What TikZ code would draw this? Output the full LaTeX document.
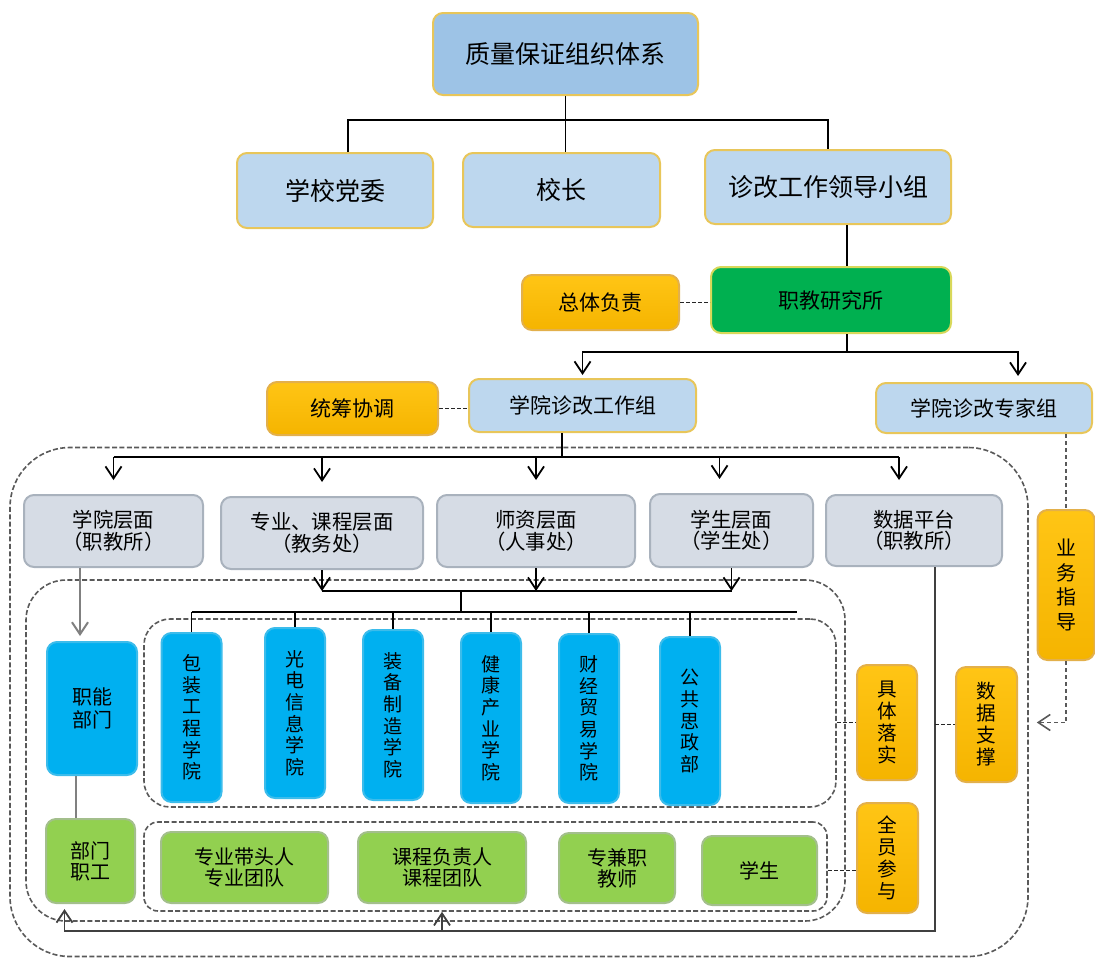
\documentclass[tikz,border=0pt]{standalone}
\usepackage{fontspec}
\setmainfont{Noto Sans CJK SC}
\usetikzlibrary{arrows.meta}

\definecolor{titleblue}{HTML}{9DC3E6}
\definecolor{lightblue}{HTML}{BDD7EE}
\definecolor{goldedge}{HTML}{E8C65A}
\definecolor{levelgrey}{HTML}{D6DCE5}
\definecolor{leveledge}{HTML}{A9B2BD}
\definecolor{deptblue}{HTML}{00B0F0}
\definecolor{deptedge}{HTML}{3CBCEB}
\definecolor{staffgreen}{HTML}{92D050}
\definecolor{staffedge}{HTML}{A3BF8C}
\definecolor{instgreen}{HTML}{00B050}
\definecolor{instedge}{HTML}{D8D85A}
\definecolor{noteyellow}{HTML}{FFC515}
\definecolor{noteorange}{HTML}{F5B400}
\definecolor{noteedge}{HTML}{E3B04B}
\definecolor{dashgrey}{HTML}{595959}

\begin{document}
\begin{tikzpicture}[
    x = 0.5pt, y = -0.5pt,
    line width = 0.9pt,
    >={Straight Barb[length=6pt,width=8pt]},
    wh/.style 2 args = {minimum width = #1*0.5pt, minimum height = #2*0.5pt},
    box/.style = {
      draw,
      rounded corners = 5pt,
      inner sep = 0pt,
      align = center,
      line width = 1pt
    },
    titlebox/.style  = {box, fill=titleblue, draw=goldedge, font=\fontsize{12.5}{15}\selectfont},
    leadbox/.style   = {box, fill=lightblue, draw=goldedge, font=\fontsize{12.5}{15}\selectfont},
    teambox/.style   = {box, fill=lightblue, draw=goldedge, font=\fontsize{10.5}{12}\selectfont},
    instbox/.style   = {box, fill=instgreen, draw=instedge, font=\fontsize{10.5}{12}\selectfont},
    notebox/.style   = {box, top color=noteyellow, bottom color=noteorange, draw=noteedge, font=\fontsize{10.5}{12}\selectfont},
    vnote/.style     = {notebox, font=\fontsize{9.8}{11}\selectfont},
    levelbox/.style  = {box, fill=levelgrey, draw=leveledge, font=\fontsize{10.2}{10.8}\selectfont},
    deptbox/.style   = {box, fill=deptblue, draw=deptedge, font=\fontsize{9.5}{10.8}\selectfont},
    memberbox/.style = {box, fill=staffgreen, draw=staffedge, font=\fontsize{10}{10.5}\selectfont},
    grp/.style       = {draw=dashgrey, dash pattern=on 2.5pt off 1.2pt, line width=0.8pt},
    link/.style      = {draw=black!85, dash pattern=on 2pt off 1pt, line width=0.8pt},
    farlink/.style   = {draw=dashgrey, dash pattern=on 2pt off 1.5pt, line width=0.8pt},
    greyline/.style  = {draw=black!50, line width=1pt},
    dataline/.style  = {draw=black!75, line width=0.9pt}
  ]
\useasboundingbox (0,0) rectangle (1095,958);

% groups
\node[grp, rounded corners=30pt, wh={1018}{509}] (outer)  at (519,702)     {};
\node[grp, rounded corners=20pt, wh={819}{341}]  (mid)    at (435.5,750.5) {};
\node[grp, rounded corners=13pt, wh={692}{188}]  (blueC)  at (490,713)     {};
\node[grp, rounded corners=7pt,  wh={683}{89}]   (greenC) at (485.5,866.5) {};

% top
\node[titlebox, wh={265}{82}] (title) at (565.5,54)  {质量保证组织体系};
\node[leadbox,  wh={196}{75}] (party) at (335,190.5) {学校党委};
\node[leadbox,  wh={197}{74}] (head)  at (561.5,190) {校长};
\node[leadbox,  wh={246}{74}] (lead)  at (828,187)   {诊改工作领导小组};

\node[instbox, wh={240}{66}] (inst)  at (831,300)     {职教研究所};
\node[notebox, wh={157}{55}] (resp)  at (600.5,302.5) {总体负责};
\node[teambox, wh={227}{53}] (wg)    at (582.5,405.5) {学院诊改工作组};
\node[notebox, wh={171}{53}] (coord) at (352.5,408.5) {统筹协调};
\node[teambox, wh={216}{50}] (ex)    at (984,408)     {学院诊改专家组};

% levels
\node[levelbox, wh={179}{72}] (l1) at (113.5,531) {学院层面\\（职教所）};
\node[levelbox, wh={202}{72}] (l2) at (322,533)   {专业、课程层面\\（教务处）};
\node[levelbox, wh={198}{72}] (l3) at (536,531)   {师资层面\\（人事处）};
\node[levelbox, wh={163}{73}] (l4) at (731.5,530.5) {学生层面\\（学生处）};
\node[levelbox, wh={176}{71}] (l5) at (914,530.5) {数据平台\\（职教所）};

% departments
\node[deptbox, font=\fontsize{10}{11.5}\selectfont, wh={90}{133}] (fn) at (92,708.5) {职能\\部门};
\node[deptbox, wh={60}{169}] (c1) at (191.5,717.5) {包\\装\\工\\程\\学\\院};
\node[deptbox, wh={60}{170}] (c2) at (295,713)     {光\\电\\信\\息\\学\\院};
\node[deptbox, wh={60}{170}] (c3) at (393,715)     {装\\备\\制\\造\\学\\院};
\node[deptbox, wh={60}{170}] (c4) at (491,718)     {健\\康\\产\\业\\学\\院};
\node[deptbox, wh={60}{169}] (c5) at (589,718.5)   {财\\经\\贸\\易\\学\\院};
\node[deptbox, wh={60}{168}] (c6) at (690,721)     {公\\共\\思\\政\\部};

% members
\node[memberbox, wh={89}{84}]  (staff) at (90.5,861)   {部门\\职工};
\node[memberbox, wh={167}{71}] (g1)    at (244.5,867.5) {专业带头人\\专业团队};
\node[memberbox, wh={168}{71}] (g2)    at (442,867.5)  {课程负责人\\课程团队};
\node[memberbox, wh={116}{70}] (g3)    at (617,868)    {专兼职\\教师};
\node[memberbox, wh={115}{69}] (g4)    at (759.5,870.5) {学生};

% notes
\node[vnote, font=\fontsize{10}{12.2}\selectfont, wh={57}{150}] (guide) at (1066,585) {业\\务\\指\\导};
\node[vnote, wh={60}{115}] (impl) at (887,722.5)   {具\\体\\落\\实};
\node[vnote, wh={61}{115}] (data) at (986.5,724.5) {数\\据\\支\\撑};
\node[vnote, wh={61}{110}] (join) at (887.5,858)   {全\\员\\参\\与};

% tree
\coordinate (topbar) at (565,120);
\draw (title.south) -- (title.south |- head.north);
\draw ([xshift=6.5pt]party.north) |- (topbar) -| (lead.north);

\coordinate (instTop) at ([xshift=8pt]inst.north);
\draw (lead.south -| instTop) -- (instTop);
\coordinate (split) at (847,352);
\draw[->] ([xshift=8pt]inst.south) |- (split -| wg.north) -- ([yshift=1.5pt]wg.north);
\draw[->] (split) -| ([xshift=17pt,yshift=3pt]ex.north);

\draw[link] (resp.east) -- (resp.east -| inst.west);
\draw[link] (coord.east) -- (coord.east -| wg.west);

% levels
\coordinate (lv) at (562,457);
\draw (wg.south -| lv) -- (lv);
\draw (lv -| l1.north) -- ([xshift=-7.5pt]lv -| l5.north);
\foreach \n/\s in {l1/0pt,l2/0pt,l3/0pt,l4/-6pt,l5/-7.5pt}
  \draw[->] ([xshift=\s]lv -| \n.north) -- ([xshift=\s,yshift=7pt]\n.north);

% colleges
\coordinate (bus1) at (461,591);
\coordinate (bus2) at (797,612);
\draw (l2.south |- bus1) -- (l4.south |- bus1);
\foreach \n in {l2,l3,l4}
  \draw[->] (\n.south) -- (\n.south |- bus1);
\draw (bus1) -- (bus1 |- bus2);
\draw (c1.north |- bus2) -- (bus2);
\foreach \n in {c1,c2,c3,c4,c5,c6}
  \draw (\n.north |- bus2) -- (\n.north);

\draw[->, greyline] ([xshift=-6pt]fn.north |- l1.south) -- ([xshift=-6pt,yshift=2.5pt]fn.north);
\draw[greyline] ([xshift=-8pt]fn.south) -- ([xshift=-8pt]fn.south |- staff.north);

% data
\coordinate (dOut) at ([xshift=10.5pt]l5.south);
\coordinate (sIn)  at ([xshift=-13pt]staff.south);
\coordinate (bot)  at (500,931);
\draw[->, dataline] (dOut) |- (bot -| sIn) -- ([yshift=-2.5pt]sIn);
\draw[->, dataline] (bot -| g2.south) -- (g2.south |- greenC.south);

% dashed
\draw[link] (blueC.east |- impl.west) -- (impl.west);
\draw[link] (dOut |- data.west) -- (data.west);
\draw[link] (g4.east -| greenC.east) -- (g4.east -| join.west);
\draw[farlink] (ex.south -| guide.north) -- (guide.north);
\draw[farlink, ->] (guide.south) |- ([xshift=4pt]outer.east |- impl.west);

\end{tikzpicture}
\end{document}
